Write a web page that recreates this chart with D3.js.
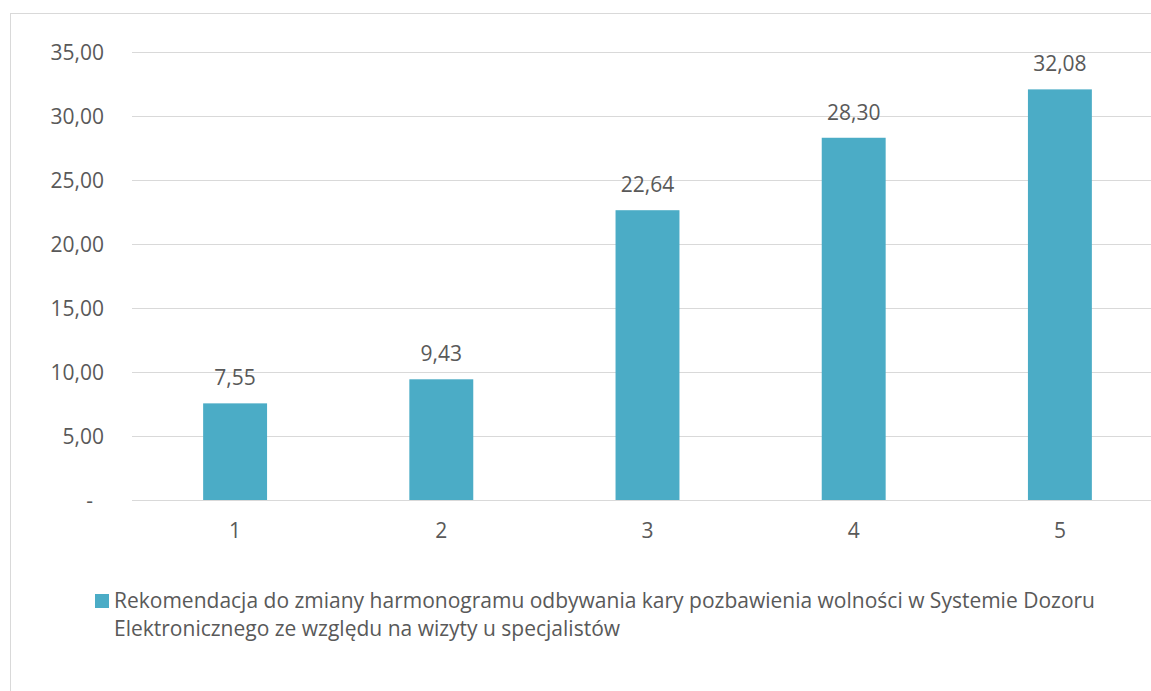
<!DOCTYPE html>
<html>
<head>
<meta charset="utf-8">
<script src="https://cdn.jsdelivr.net/npm/d3@7"></script>
<style>
	html, body { margin: 0; padding: 0; background: #fff; }
	svg text { font-family: "Open Sans", "Noto Sans", sans-serif; fill: #595959; }
</style>
</head>
<body>
<div id="wrapper"></div>
<script>
// chart data
const categories = ["1", "2", "3", "4", "5"];
const values = [7.55, 9.43, 22.64, 28.30, 32.08];
const yTicks = [0, 5, 10, 15, 20, 25, 30, 35];
const seriesName = "Rekomendacja do zmiany harmonogramu odbywania kary pozbawienia wolności w Systemie Dozoru Elektronicznego ze względu na wizyty u specjalistów";
const legendLines = [
	"Rekomendacja do zmiany harmonogramu odbywania kary pozbawienia wolności w Systemie Dozoru",
	"Elektronicznego ze względu na wizyty u specjalistów"
];

const fmt = v => v === 0 ? "-" : d3.format(".2f")(v).replace(".", ",");
const fontSize = "21px";

let dimensions = {
	width: 1151,
	height: 691,
	margin: { top: 52, right: -12, bottom: 191, left: 132 }
};
dimensions.boundedWidth = dimensions.width - dimensions.margin.left - dimensions.margin.right;
dimensions.boundedHeight = dimensions.height - dimensions.margin.top - dimensions.margin.bottom;

const wrapper = d3.select("#wrapper").append("svg")
	.attr("width", dimensions.width)
	.attr("height", dimensions.height);

// outer chart frame (cropped at right/bottom)
wrapper.append("rect")
	.attr("x", 10.5).attr("y", 13.5)
	.attr("width", 1200).attr("height", 800)
	.attr("fill", "none")
	.attr("stroke", "#d9d9d9")
	.attr("stroke-width", 1);

const container = wrapper.append("g")
	.attr("transform", `translate(${dimensions.margin.left},${dimensions.margin.top})`);

const xScale = d3.scaleBand()
	.domain(categories)
	.range([0, dimensions.boundedWidth])
	.paddingInner(0.69)
	.paddingOuter(0.345);

const yScale = d3.scaleLinear()
	.domain([0, 35])
	.range([dimensions.boundedHeight, 0]);

// gridlines
container.append("g")
	.selectAll("line")
	.data(yTicks)
	.enter()
	.append("line")
	.attr("x1", 0)
	.attr("x2", dimensions.boundedWidth)
	.attr("y1", d => Math.round(yScale(d)) + 0.5)
	.attr("y2", d => Math.round(yScale(d)) + 0.5)
	.attr("stroke", "#d9d9d9")
	.attr("stroke-width", 1);

// y axis
const yAxisGen = d3.axisLeft(yScale).tickValues(yTicks).tickFormat(fmt).tickSize(0).tickPadding(28);
const axisY = container.append("g").call(yAxisGen);
axisY.select(".domain").remove();
axisY.selectAll("text")
	.style("font-size", fontSize)
	.attr("dy", "0.35em")
	.attr("dx", d => d === 0 ? -11 : 0);

// x axis
const xAxisGen = d3.axisBottom(xScale).tickSize(0).tickPadding(23);
const axisX = container.append("g")
	.attr("transform", `translate(0,${dimensions.boundedHeight})`)
	.call(xAxisGen);
axisX.select(".domain").remove();
axisX.selectAll("text").style("font-size", fontSize);

// bars
container.append("g")
	.selectAll("rect")
	.data(values)
	.enter()
	.append("rect")
	.attr("x", (d, i) => xScale(categories[i]))
	.attr("y", d => yScale(d))
	.attr("width", xScale.bandwidth())
	.attr("height", d => dimensions.boundedHeight - yScale(d))
	.attr("fill", "#4bacc6");

// data labels
container.append("g")
	.selectAll("text")
	.data(values)
	.enter()
	.append("text")
	.attr("x", (d, i) => xScale(categories[i]) + xScale.bandwidth() / 2)
	.attr("y", d => yScale(d) - 18)
	.attr("text-anchor", "middle")
	.style("font-size", fontSize)
	.text(d => fmt(d));

// legend
const legend = wrapper.append("g").attr("aria-label", seriesName);
legend.append("rect")
	.attr("x", 95).attr("y", 594)
	.attr("width", 14).attr("height", 14)
	.attr("fill", "#4bacc6");
legend.selectAll("text")
	.data(legendLines)
	.enter()
	.append("text")
	.attr("x", 114)
	.attr("y", (d, i) => 608 + i * 28)
	.style("font-size", fontSize)
	.text(d => d);
</script>
</body>
</html>
